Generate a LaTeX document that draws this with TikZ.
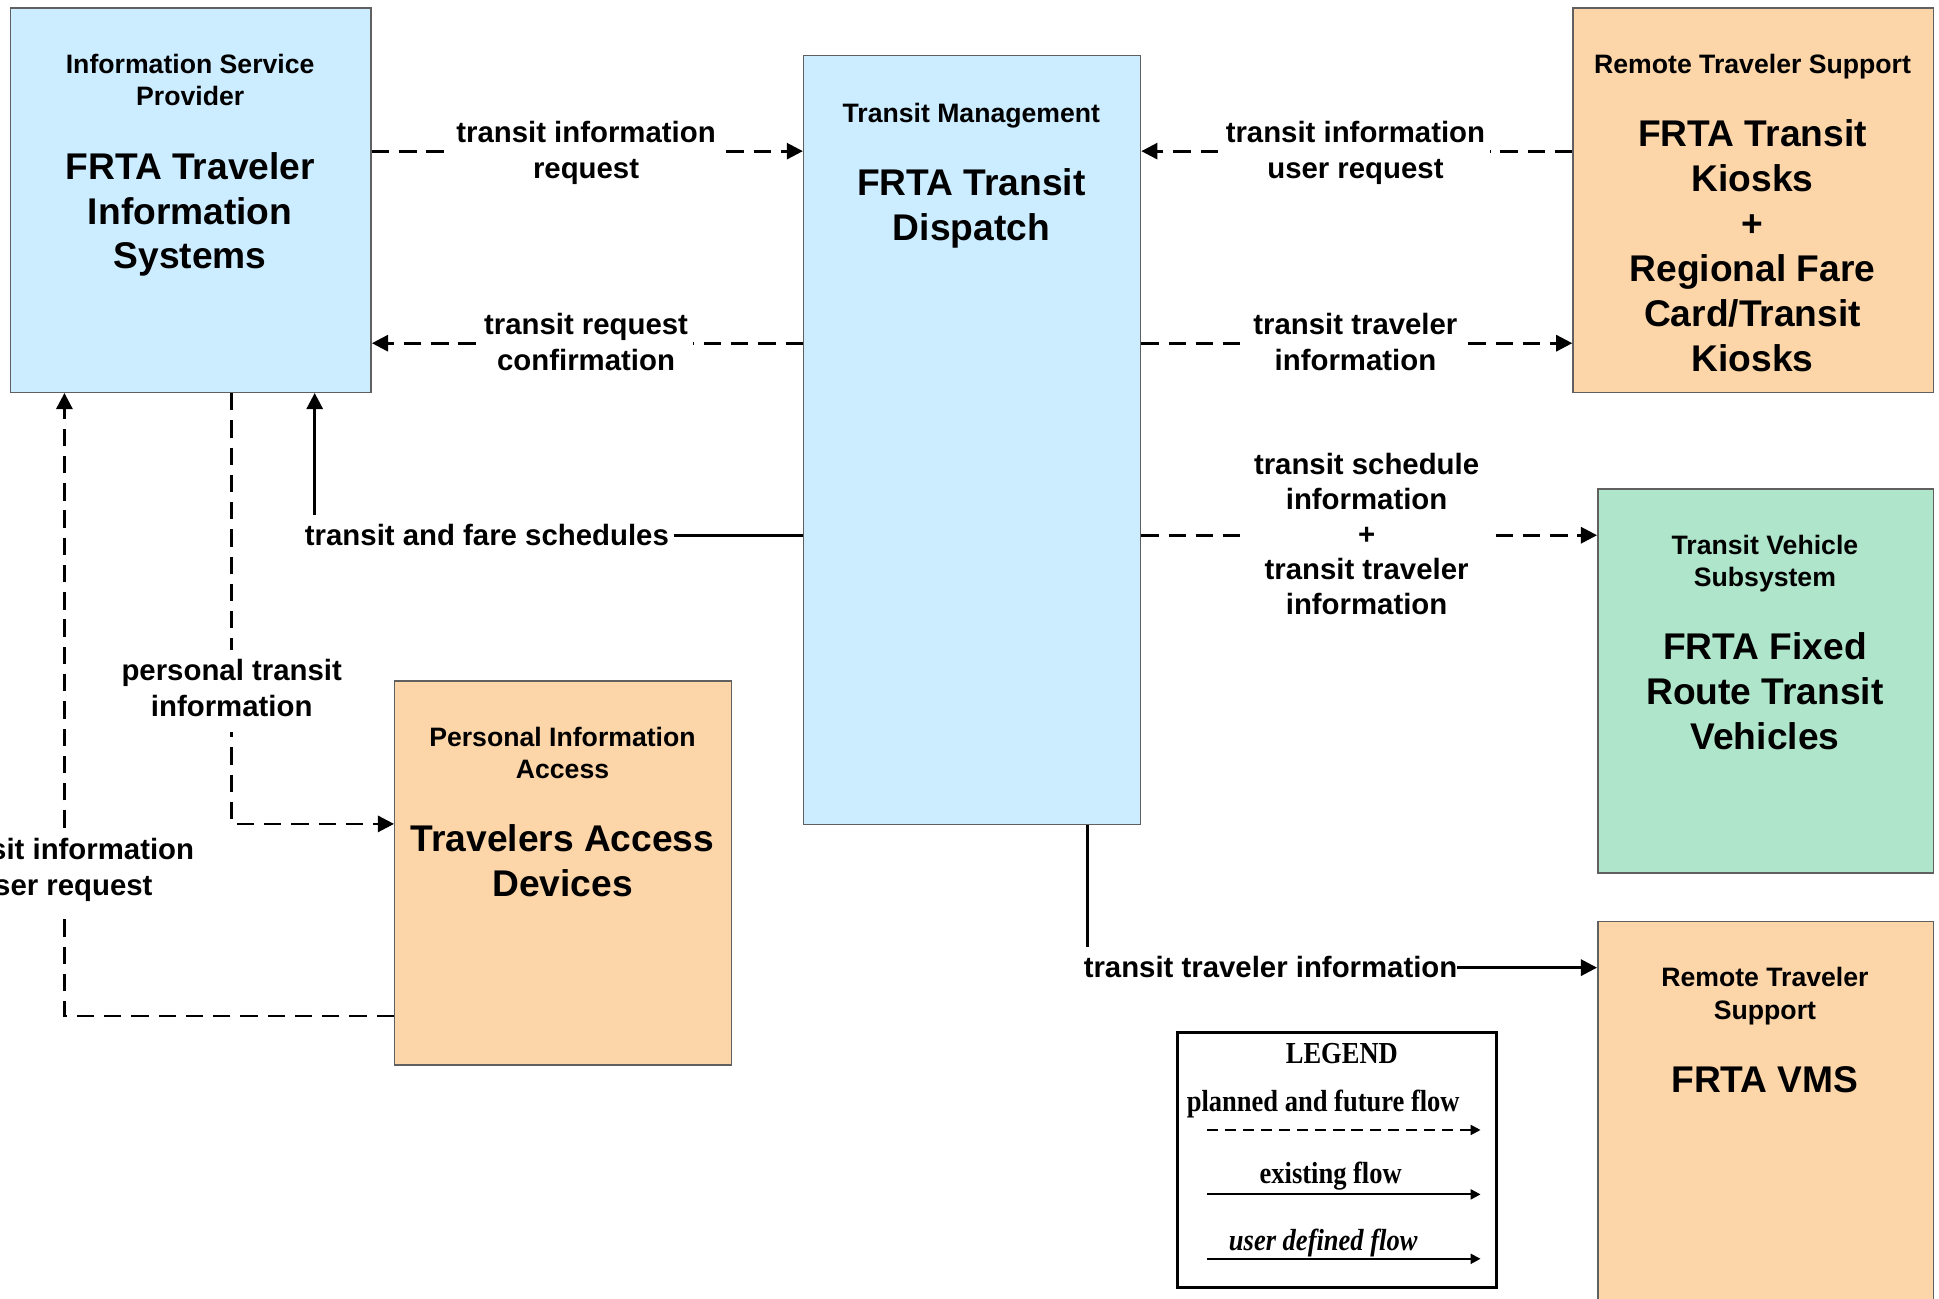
\documentclass[tikz,border=0pt]{standalone}
\usepackage{fontspec}
\setmainfont{Liberation Sans}
\newfontfamily\legserif{Liberation Serif}
\usepackage{graphicx}
\usetikzlibrary{arrows.meta}
\definecolor{boxblue}{HTML}{CCECFF}
\definecolor{boxorange}{HTML}{FCD5A8}
\definecolor{boxgreen}{HTML}{AFE5CB}
\definecolor{boxline}{HTML}{606060}
\newcommand\fbig{\fontsize{15}{18.15}\selectfont\bfseries}
\newcommand\fsmall{\fontsize{10.75}{13}\selectfont\bfseries}
\newcommand\flab{\fontsize{11.85}{14.5}\selectfont\bfseries}
\newcommand\flabb{\fontsize{11.85}{14.125}\selectfont\bfseries}
\newcommand\fleg{\legserif\fontsize{10.7}{13}\selectfont\bfseries}
\newcommand\mlines[1]{\begin{tabular}[t]{@{}c@{}}#1\end{tabular}}
\begin{document}
\begin{tikzpicture}[x=0.5pt,y=-0.5pt,
  sysbox/.style={draw=boxline, line width=0.6pt, inner sep=0pt, anchor=north west},
  txt/.style={inner sep=0pt, anchor=base},
  lab/.style={fill=white, inner sep=2pt, anchor=base, font=\flab},
  flowd/.style={line width=1.1pt, dash pattern=on 7pt off 4pt, -{Triangle[length=6.5pt,width=6.5pt]}},
  flows/.style={line width=1.1pt, -{Triangle[length=6.5pt,width=6.5pt]}},
  legd/.style={line width=0.8pt, dash pattern=on 4.5pt off 2.8pt, -{Triangle[length=4pt,width=4pt]}},
  legs/.style={line width=0.9pt, -{Triangle[length=4pt,width=4pt]}}]
\useasboundingbox (0,0) rectangle (1565,1048.4);

% boxes
\node[sysbox, fill=boxblue, minimum width=145.5pt, minimum height=155pt] (ISP) at (8,6) {};
\node[sysbox, fill=boxblue, minimum width=136pt, minimum height=310.5pt] (TM) at (648,44) {};
\node[sysbox, fill=boxorange, minimum width=145.5pt, minimum height=155pt] (RTS) at (1269,6) {};
\node[sysbox, fill=boxgreen, minimum width=135.5pt, minimum height=155pt] (TVS) at (1289,394) {};
\node[sysbox, fill=boxorange, minimum width=135.5pt, minimum height=170pt] (VMS) at (1289,743) {};
\node[sysbox, fill=boxorange, minimum width=136pt, minimum height=155pt] (PIA) at (318,549) {};

% box texts
\node[txt, font=\fsmall] (ISPs) at (153.5,59.5) {\mlines{Information Service\\Provider}};
\node[txt, font=\fbig] (ISPb) at (153.5,144.5) {\mlines{FRTA Traveler\\Information\\Systems}};
\node[txt, font=\fsmall] (TMs) at (784,98.5) {\mlines{Transit Management}};
\node[txt, font=\fbig] (TMb) at (784,157.5) {\mlines{FRTA Transit\\Dispatch}};
\node[txt, font=\fsmall] (RTSs) at (1414.5,59.5) {\mlines{Remote Traveler Support}};
\node[txt, font=\fbig] (RTSb) at (1414.5,118.5) {\mlines{FRTA Transit\\Kiosks\\+\\Regional Fare\\Card/Transit\\Kiosks}};
\node[txt, font=\fsmall] (TVSs) at (1424.5,447.5) {\mlines{Transit Vehicle\\Subsystem}};
\node[txt, font=\fbig] (TVSb) at (1424.5,532.5) {\mlines{FRTA Fixed\\Route Transit\\Vehicles}};
\node[txt, font=\fsmall] (VMSs) at (1424.5,796.5) {\mlines{Remote Traveler\\Support}};
\node[txt, font=\fbig] (VMSb) at (1424.5,881.5) {\mlines{FRTA VMS}};
\node[txt, font=\fsmall] (PIAs) at (454,602.5) {\mlines{Personal Information\\Access}};
\node[txt, font=\fbig] (PIAb) at (454,687.5) {\mlines{Travelers Access\\Devices}};

% routing coordinates
\coordinate (r1) at (473,122);
\coordinate (r2) at (473,277);
\coordinate (r3) at (1094,122);
\coordinate (r4) at (1094,277);
\coordinate (r5) at (1103,432);
\coordinate (sx) at (254,432);
\coordinate (px) at (187,665);
\coordinate (ux) at (52,820);
\coordinate (vx) at (878,781);

% connectors
\draw[flowd] (ISP.east |- r1) -- (TM.west |- r1);
\draw[flowd] (TM.west |- r2) -- (ISP.east |- r2);
\draw[flowd] (RTS.west |- r3) -- (TM.east |- r3);
\draw[flowd] (TM.east |- r4) -- (RTS.west |- r4);
\draw[flowd] (TM.east |- r5) -- (TVS.west |- r5);
\draw[flows] (TM.west |- sx) -- (sx) -- (ISP.south -| sx);
\draw[flowd] (ISP.south -| px) -- (px) -- (PIA.west |- px);
\draw[flowd] (PIA.west |- ux) -- (ux) -- (ISP.south -| ux);
\draw[flows] (TM.south -| vx) -- (vx) -- (VMS.west |- vx);

% labels
\node[lab] (l1) at (473,115) {\mlines{transit information\\request}};
\node[lab] (l2) at (473,270) {\mlines{transit request\\confirmation}};
\node[lab] (l3) at (1094,115) {\mlines{transit information\\user request}};
\node[lab] (l4) at (1094,270) {\mlines{transit traveler\\information}};
\node[lab, font=\flabb, inner xsep=5pt] (l5) at (1103,383) {\mlines{transit schedule\\information\\+\\transit traveler\\information}};
\node[lab] (l6) at (393,440) {\mlines{transit and fare schedules}};
\node[lab] (l7) at (187,549) {\mlines{personal transit\\information}};
\node[lab] (l8) at (52,694) {\mlines{transit information\\user request}};
\node[lab, inner xsep=0pt] (l9) at (1025.5,789) {\mlines{transit traveler information}};

% legend
\node[draw, line width=1.2pt, inner sep=0pt, anchor=north west, minimum width=129pt, minimum height=103pt] (LEG) at (949,832) {};
\node[txt, font=\fleg] (legt) at (1083,858.5) {\scalebox{1}[1.15]{LEGEND}};
\node[txt, font=\fleg] (leg1) at (1068,897) {\scalebox{1}[1.15]{planned and future flow}};
\node[txt, font=\fleg] (leg2) at (1074,955) {\scalebox{1}[1.15]{existing flow}};
\node[txt, font=\fleg] (leg3) at (1068,1009) {\scalebox{1}[1.15]{\itshape user defined flow}};
\coordinate (la1) at (974,912);
\coordinate (lb1) at (1195,912);
\coordinate (la2) at (974,964);
\coordinate (lb2) at (1195,964);
\coordinate (la3) at (974,1016);
\coordinate (lb3) at (1195,1016);
\draw[legd] (la1) -- (lb1);
\draw[legs] (la2) -- (lb2);
\draw[legs] (la3) -- (lb3);
\end{tikzpicture}
\end{document}
